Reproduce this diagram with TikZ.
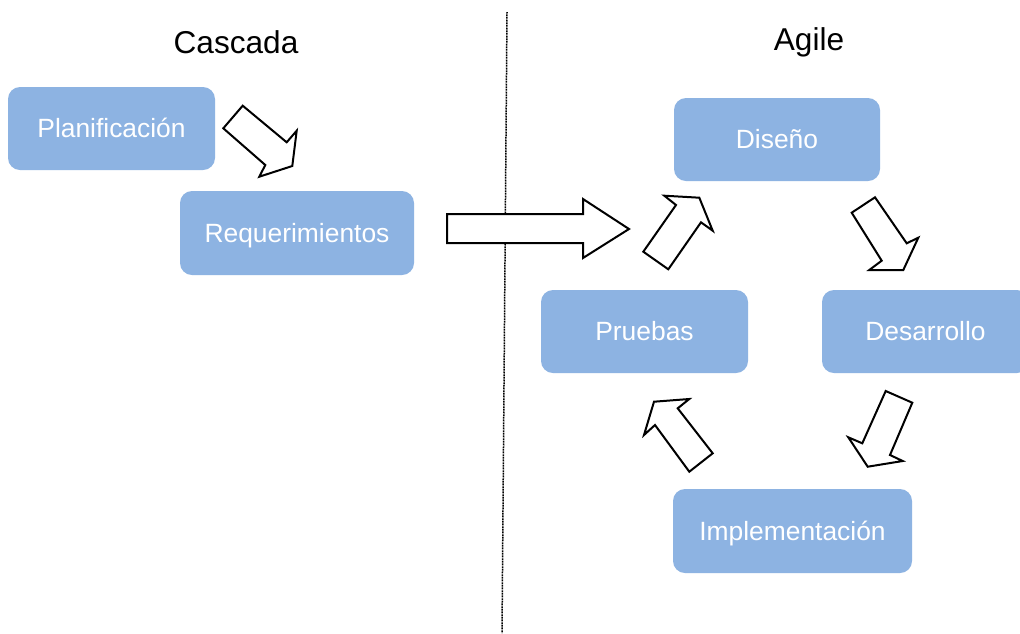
\documentclass[tikz,border=0pt]{standalone}
\usepackage{fontspec}
\setmainfont{Liberation Sans}
\definecolor{boxblue}{RGB}{141,179,226}
\begin{document}
\begin{tikzpicture}[x=1pt,y=-1pt,
  stage/.style={fill=boxblue,rounded corners=12pt,inner sep=0pt,text=white,
    text height=23.9pt,text depth=5.6pt,
    font=\fontsize{26.4}{30}\selectfont},
  title/.style={font=\fontsize{31.6}{36}\selectfont,text=black},
  blockarrow/.style={draw=black,fill=white,line width=2pt,line join=miter}]
\useasboundingbox (0,0) rectangle (1020,633);
\fill[white] (0,0) rectangle (1020,633);
% divider
\draw[line width=1.5pt,dash pattern=on 1pt off 0.6pt] (507,12) coordinate (dtop) -- (502,633) coordinate (dbot);
% titles
\node[title] (cascada) at (236,42) {Cascada};
\node[title] (agile) at (809,42) {Agile};
% boxes
\node[stage,minimum width=207pt,minimum height=83pt] (plan) at (111.5,128.5) {Planificación};
\node[stage,minimum width=234pt,minimum height=84pt] (req) at (297,233) {Requerimientos};
\node[stage,minimum width=206pt,minimum height=83pt] (dis) at (777,139.5) {Diseño};
\node[stage,minimum width=207pt,minimum height=83pt] (des) at (925.5,331.5) {Desarrollo};
\node[stage,minimum width=207pt,minimum height=83pt] (pru) at (644.5,331.5) {Pruebas};
\node[stage,minimum width=239pt,minimum height=84pt] (imp) at (792.5,531) {Implementación};
% block arrows
\draw[blockarrow] (223.3,128.3) -- (242.7,105.7) -- (286.7,142.3) -- (296.7,130.7) -- (292.3,166) -- (259.3,176.7) -- (265.3,165) -- cycle;
\draw[blockarrow] (447,214) -- (583,214) -- (583,199) -- (629,229) -- (583,258) -- (583,243) -- (447,243) -- cycle;
\draw[blockarrow] (643.3,251.7) -- (668.3,269.3) -- (701,222.3) -- (712.7,230.7) -- (699.3,197.7) -- (664.3,195.7) -- (676,205) -- cycle;
\draw[blockarrow] (851.7,212.7) -- (875,197.3) -- (906.7,243.3) -- (918.3,237.7) -- (903.3,270) -- (869.3,270) -- (881.7,260.7) -- cycle;
\draw[blockarrow] (885.7,391) -- (912.3,402.7) -- (890,455) -- (902.7,461) -- (867.7,466.7) -- (848.3,437.3) -- (862.3,443.3) -- cycle;
\draw[blockarrow] (712.7,453.3) -- (689.3,471.7) -- (655,425) -- (644,435) -- (654,401.7) -- (689.3,399) -- (677.7,408.3) -- cycle;
\end{tikzpicture}
\end{document}
